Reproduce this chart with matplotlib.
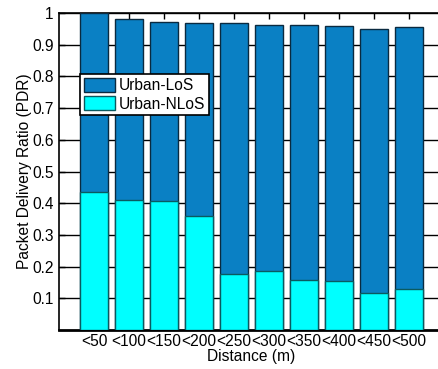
import matplotlib.pyplot as plt
import numpy as np

plt.rcParams['font.family'] = ['Liberation Sans', 'DejaVu Sans']

distances = ['<50', '<100', '<150', '<200', '<250', '<300', '<350', '<400', '<450', '<500']
pdr_los = [1.0, 0.981, 0.971, 0.968, 0.970, 0.961, 0.961, 0.958, 0.949, 0.955]
pdr_nlos = [0.434, 0.410, 0.408, 0.361, 0.176, 0.187, 0.159, 0.156, 0.118, 0.128]

fig = plt.figure(figsize=(4.38, 3.69), dpi=100)
ax = fig.add_axes([59 / 438, (369 - 330) / 369, 385 / 438, 317 / 369])

x = np.arange(1, len(distances) + 1)
ax.bar(x, pdr_los, width=0.8, color='#0a80c4', edgecolor='#0a2a40', linewidth=1.0,
       label='Urban-LoS', zorder=3)
ax.bar(x, pdr_nlos, width=0.8, color='#00ffff', edgecolor='#0a5a60', linewidth=1.0,
       label='Urban-NLoS', zorder=4)

ax.set_xlim(0, 11)
ax.set_ylim(0, 1)
ax.set_yticks([0.1, 0.2, 0.3, 0.4, 0.5, 0.6, 0.7, 0.8, 0.9, 1.0])
ax.set_yticklabels(['0.1', '0.2', '0.3', '0.4', '0.5', '0.6', '0.7', '0.8', '0.9', '1'])
ax.set_xticks(x)
ax.set_xticklabels(distances)
ax.yaxis.grid(True, color='black', linewidth=1.0, zorder=0)
ax.set_axisbelow(True)

fs = 11.2
ax.tick_params(axis='both', direction='in', labelsize=fs, length=4, width=1,
               top=True, right=False, pad=4)
ax.tick_params(axis='x', pad=3)
for side in ['left', 'top']:
    ax.spines[side].set_linewidth(1.2)
ax.spines['bottom'].set_linewidth(2.0)
ax.spines['right'].set_visible(False)

ax.set_xlabel('Distance (m)', fontsize=fs, labelpad=0)
ax.set_ylabel('Packet Delivery Ratio (PDR)', fontsize=fs, labelpad=0)

leg = ax.legend(loc='upper left', bbox_to_anchor=(21 / 385, 1 - 61 / 317), fontsize=fs,
                fancybox=False, framealpha=1, edgecolor='black', borderpad=0.25,
                handlelength=2.0, handleheight=1.0, handletextpad=0.25, labelspacing=0.2,
                borderaxespad=0)
leg.get_frame().set_linewidth(1.2)
leg.set_zorder(10)

fig.savefig('out.png', dpi=100)
